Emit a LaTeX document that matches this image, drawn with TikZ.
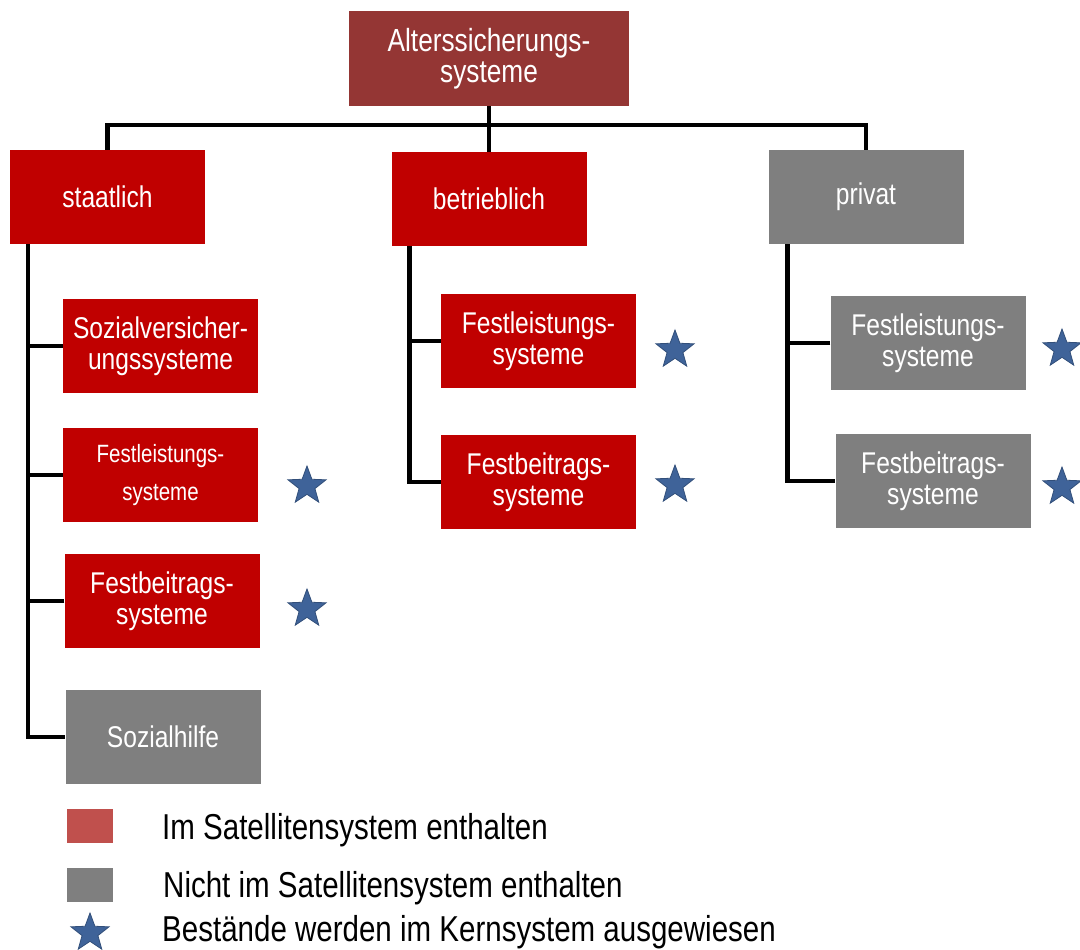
\documentclass[tikz,border=0pt]{standalone}
\usepackage{fontspec}
\setmainfont{Liberation Sans}[FakeStretch=0.82]
\usetikzlibrary{shapes.geometric,calc}
\definecolor{topred}{HTML}{943634}
\definecolor{satred}{HTML}{C00000}
\definecolor{satgray}{HTML}{7F7F7F}
\definecolor{legred}{HTML}{C0504D}
\definecolor{kernblue}{HTML}{3F6399}
\tikzset{
    box/.style={draw=none, minimum width=195pt, minimum height=94pt, inner sep=2pt, align=center, text=white, font=\fontsize{30}{31}\selectfont},
    inbox/.style={box, fill=satred},
    outbox/.style={box, fill=satgray},
    tree/.style={line width=4.5pt, black},
    kern/.style={star, star points=5, star point ratio=2.4, fill=kernblue, draw=kernblue!80!black, line width=0.8pt, minimum size=40pt, inner sep=0pt},
    legbox/.style={draw=none, minimum width=46pt, minimum height=34pt, inner sep=0pt},
    legtext/.style={anchor=west, inner sep=0pt, font=\fontsize{36}{38}\selectfont}
}
\begin{document}
\begin{tikzpicture}[x=1pt, y=-1pt]
    \useasboundingbox (0,0) rectangle (1080,950);

    \node[box, fill=topred, minimum width=280pt, minimum height=95pt, font=\fontsize{32}{31}\selectfont] (alters) at (489,58.5) {Alterssicherungs-\\systeme};

    \node[inbox] (staat) at (107.5,197) {staatlich};
    \node[inbox] (betr) at (489,199) {betrieblich};
    \node[outbox] (priv) at (866,197) {privat};

    % staatlich
    \node[inbox] (sozv) at (160.5,346) {Sozialversicher-\\ungssysteme};
    \node[inbox, font=\fontsize{25}{38}\selectfont] (sfestl) at (160.5,475) {Festleistungs-\\systeme};
    \node[inbox] (sfestb) at (162,601) {Festbeitrags-\\systeme};
    \node[outbox] (sozh) at (163,737) {Sozialhilfe};

    % betrieblich
    \node[inbox] (bfestl) at (538.5,341) {Festleistungs-\\systeme};
    \node[inbox] (bfestb) at (538.5,482) {Festbeitrags-\\systeme};

    % privat
    \node[outbox] (pfestl) at (928,343) {Festleistungs-\\systeme};
    \node[outbox] (pfestb) at (933,481) {Festbeitrags-\\systeme};

    \node[kern] (ksfestl) at (307,486) {};
    \node[kern] (ksfestb) at (307,609) {};
    \node[kern] (kbfestl) at (675,350) {};
    \node[kern] (kbfestb) at (675,485) {};
    \node[kern] (kpfestl) at (1062,349) {};
    \node[kern] (kpfestb) at (1062,487) {};

    \coordinate (bus) at (489,125);
    \draw[tree] (staat.north) |- (bus) -| (priv.north);
    \draw[tree] (alters) -- (betr);

    \coordinate (strunk) at ([xshift=18pt]staat.south west);
    \draw[tree] (strunk) |- (sozh.west);
    \foreach \n in {sozv,sfestl,sfestb}
        \draw[tree] (\n.west) -- (\n.west -| strunk);

    \coordinate (btrunk) at ([xshift=18pt]betr.south west);
    \draw[tree] (btrunk) |- (bfestb.west);
    \draw[tree] (bfestl.west) -- (bfestl.west -| btrunk);

    \coordinate (ptrunk) at ([xshift=19pt]priv.south west);
    \draw[tree] (ptrunk) |- (pfestb.west);
    \draw[tree] (pfestl.west) -- (pfestl.west -| ptrunk);

    % legend
    \node[legbox, fill=legred] (legin) at (90,826) {};
    \node[legtext] (legintext) at (162,830) {Im Satellitensystem enthalten};
    \node[legbox, fill=satgray] (legout) at (90,885) {};
    \node[legtext] (legouttext) at (163,888) {Nicht im Satellitensystem enthalten};
    \node[kern] (legkern) at (90,933) {};
    \node[legtext] (legkerntext) at (162,932) {Bestände werden im Kernsystem ausgewiesen};
\end{tikzpicture}
\end{document}
